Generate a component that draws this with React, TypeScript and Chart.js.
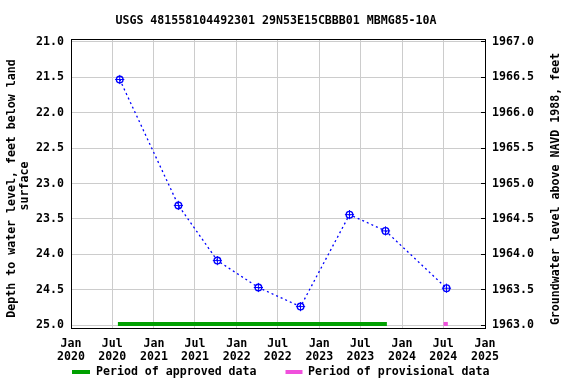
import React, { useEffect, useRef } from 'react';
import { Chart, registerables } from 'chart.js';

Chart.register(...registerables);

const TITLE = 'USGS 481558104492301 29N53E15CBBB01 MBMG85-10A';
const LEFT_TITLE = ['Depth to water level, feet below land', 'surface'];
const RIGHT_TITLE = 'Groundwater level above NAVD 1988, feet';
const LEGEND_APPROVED = 'Period of approved data';
const LEGEND_PROVISIONAL = 'Period of provisional data';

const sampleDates = ['2020-08-03', '2021-04-19', '2021-10-08', '2022-04-07', '2022-10-10', '2023-05-14', '2023-10-20', '2024-07-15'];
const depthFt = [21.53, 23.31, 24.09, 24.47, 24.74, 23.44, 23.67, 24.48];

const approvedPeriod = ['2020-07-26', '2023-10-26'];
const provisionalPeriod = ['2024-07-02', '2024-07-21'];
const periodBarDepth = 24.985;

const xTickDates = ['2020-01-01', '2020-07-01', '2021-01-01', '2021-07-01', '2022-01-01', '2022-07-01', '2023-01-01', '2023-07-01', '2024-01-01', '2024-07-01', '2025-01-01'];
const xRange = ['2020-01-01', '2025-01-01'];
const depthTicks = [21.0, 21.5, 22.0, 22.5, 23.0, 23.5, 24.0, 24.5, 25.0];
const elevTicks = [1963.0, 1963.5, 1964.0, 1964.5, 1965.0, 1965.5, 1966.0, 1966.5, 1967.0];
const depthRange = [20.9576, 25.0424];
const DATUM = 1988; // elevation = DATUM - depth

const t = (s: string) => Date.parse(s + 'T00:00:00Z');
const MONTHS = ['Jan', 'Feb', 'Mar', 'Apr', 'May', 'Jun', 'Jul', 'Aug', 'Sep', 'Oct', 'Nov', 'Dec'];

const FONT_FAMILY = "'DejaVu Sans Mono', monospace";
const FONT_SIZE = 11.6;
const fontStr = `bold ${FONT_SIZE}px ${FONT_FAMILY}`;
const APPROVED_COLOR = '#00a000';
const PROVISIONAL_COLOR = '#f050dc';
const POINT_COLOR = '#0000ff';

const decorPlugin = {
  id: 'decor',
  afterDraw(chart: any) {
    const { ctx, chartArea } = chart;
    const { left, right, top, bottom } = chartArea;
    ctx.save();
    // frame
    ctx.strokeStyle = '#000';
    ctx.lineWidth = 1;
    ctx.strokeRect(left + 0.5, top + 0.5, right - left, bottom - top);

    ctx.fillStyle = '#000';
    ctx.font = fontStr;
    ctx.textAlign = 'center';
    ctx.textBaseline = 'middle';
    const midY = (top + bottom) / 2;

    // left axis title (two lines)
    ctx.save();
    ctx.translate(left - 59.5, midY + 5);
    ctx.rotate(-Math.PI / 2);
    ctx.fillText(LEFT_TITLE[0], 0, 0);
    ctx.restore();
    ctx.save();
    ctx.translate(left - 46.5, midY + 2.5);
    ctx.rotate(-Math.PI / 2);
    ctx.fillText(LEFT_TITLE[1], 0, 0);
    ctx.restore();

    // right axis title
    ctx.save();
    ctx.translate(right + 71, midY + 5.5);
    ctx.rotate(-Math.PI / 2);
    ctx.fillText(RIGHT_TITLE, 0, 0);
    ctx.restore();

    // legend
    const ly = 372;
    ctx.textAlign = 'left';
    ctx.lineWidth = 4;
    ctx.lineCap = 'butt';
    ctx.strokeStyle = APPROVED_COLOR;
    ctx.beginPath();
    ctx.moveTo(72, ly);
    ctx.lineTo(90, ly);
    ctx.stroke();
    ctx.fillText(LEGEND_APPROVED, 96, ly);
    ctx.strokeStyle = PROVISIONAL_COLOR;
    ctx.beginPath();
    ctx.moveTo(285.5, ly);
    ctx.lineTo(302.5, ly);
    ctx.stroke();
    ctx.fillText(LEGEND_PROVISIONAL, 308, ly);
    ctx.restore();
  },
};

export default function App() {
  const ref = useRef<HTMLCanvasElement | null>(null);

  useEffect(() => {
    if (!ref.current) return;
    const points = sampleDates.map((d, i) => ({ x: t(d), y: depthFt[i] }));
    const font = { family: FONT_FAMILY, size: FONT_SIZE, weight: 'bold' as const, lineHeight: 1.1 };
    const chart = new Chart(ref.current, {
      type: 'scatter',
      data: {
        datasets: [
          {
            label: LEGEND_APPROVED,
            data: approvedPeriod.map((d) => ({ x: t(d), y: periodBarDepth })),
            showLine: true,
            borderColor: APPROVED_COLOR,
            backgroundColor: APPROVED_COLOR,
            borderWidth: 4,
            borderCapStyle: 'butt',
            pointRadius: 0,
            yAxisID: 'y',
          },
          {
            label: LEGEND_PROVISIONAL,
            data: provisionalPeriod.map((d) => ({ x: t(d), y: periodBarDepth })),
            showLine: true,
            borderColor: PROVISIONAL_COLOR,
            backgroundColor: PROVISIONAL_COLOR,
            borderWidth: 4,
            borderCapStyle: 'butt',
            pointRadius: 0,
            yAxisID: 'y',
          },
          {
            label: 'Depth to water level',
            data: points,
            showLine: true,
            borderColor: POINT_COLOR,
            borderWidth: 1.3,
            borderDash: [2, 3],
            pointStyle: 'circle',
            pointRadius: 3.3,
            pointBorderWidth: 1.4,
            pointBorderColor: POINT_COLOR,
            pointBackgroundColor: 'rgba(0,0,0,0)',
            yAxisID: 'y',
          },
          {
            label: 'marker ticks',
            data: points,
            showLine: false,
            pointStyle: 'cross',
            pointRadius: 4.6,
            pointBorderWidth: 1,
            pointBorderColor: POINT_COLOR,
            yAxisID: 'y',
          },
        ],
      },
      options: {
        responsive: false,
        animation: false,
        events: [],
        layout: { padding: { left: 0, right: 24, top: 0, bottom: 0 } },
        plugins: {
          legend: { display: false },
          tooltip: { enabled: false },
          title: {
            display: true,
            text: TITLE,
            color: '#000',
            font: { family: FONT_FAMILY, size: FONT_SIZE, weight: 'bold', lineHeight: '14px' as any },
            padding: { top: 14, bottom: 11 },
          },
        },
        scales: {
          x: {
            type: 'linear',
            position: 'bottom',
            min: t(xRange[0]),
            max: t(xRange[1]),
            afterBuildTicks: (s: any) => {
              s.ticks = xTickDates.map((d) => ({ value: t(d) }));
            },
            afterFit: (s: any) => {
              s.height = 56;
            },
            ticks: {
              autoSkip: false,
              maxRotation: 0,
              minRotation: 0,
              padding: 9.5,
              color: '#000',
              font,
              callback: (v: any) => {
                const d = new Date(Number(v));
                return [MONTHS[d.getUTCMonth()], String(d.getUTCFullYear())];
              },
            },
            grid: { color: '#cccccc', lineWidth: 1, drawTicks: false },
            border: { display: false },
          },
          y: {
            type: 'linear',
            position: 'left',
            reverse: true,
            min: depthRange[0],
            max: depthRange[1],
            afterBuildTicks: (s: any) => {
              s.ticks = depthTicks.map((v) => ({ value: v }));
            },
            afterFit: (s: any) => {
              s.width = 71;
            },
            ticks: {
              padding: 7,
              color: '#000',
              font,
              callback: (v: any) => Number(v).toFixed(1),
            },
            grid: { color: '#cccccc', lineWidth: 1, drawTicks: false },
            border: { display: false },
          },
          y2: {
            type: 'linear',
            position: 'right',
            min: DATUM - depthRange[1],
            max: DATUM - depthRange[0],
            afterBuildTicks: (s: any) => {
              s.ticks = elevTicks.map((v) => ({ value: v }));
            },
            afterFit: (s: any) => {
              s.width = 67;
            },
            ticks: {
              padding: 11,
              color: '#000',
              font,
              callback: (v: any) => Number(v).toFixed(1),
            },
            grid: { drawOnChartArea: false, color: '#000', lineWidth: 1, drawTicks: true, tickLength: -4 },
            border: { display: false },
          },
        },
      },
      plugins: [decorPlugin],
    } as any);
    return () => chart.destroy();
  }, []);

  return (
    <div style={{ position: 'absolute', left: 0, top: 0, width: 576, height: 384, background: '#fff' }}>
      <canvas ref={ref} width={576} height={384} style={{ display: 'block' }} />
    </div>
  );
}
